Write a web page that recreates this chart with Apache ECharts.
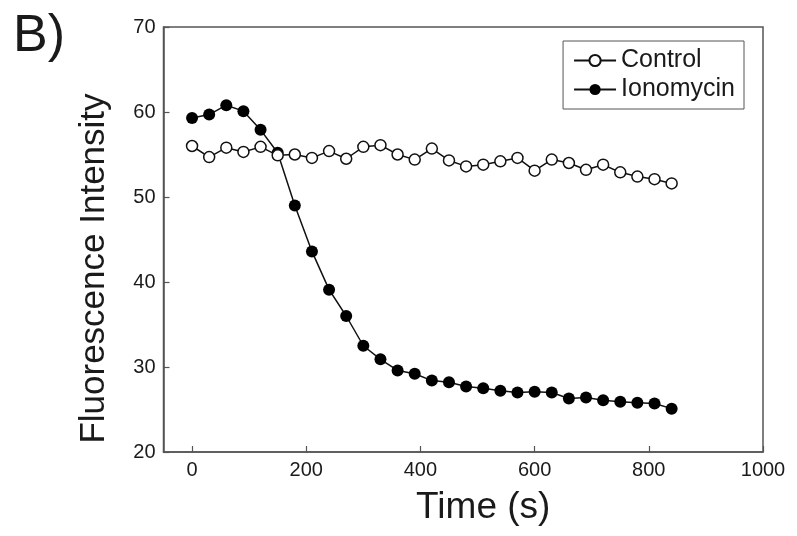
<!DOCTYPE html>
<html>
<head>
<meta charset="utf-8">
<script src="https://cdn.jsdelivr.net/npm/echarts@6/dist/echarts.min.js"></script>
<style>
  html, body { margin: 0; padding: 0; background: #fff; }
  #chart { width: 797px; height: 536px; }
</style>
</head>
<body>
<div id="chart"></div>
<script>
// time points (s), one reading every 30 s
const times = [0, 30, 60, 90, 120, 150, 180, 210, 240, 270, 300, 330, 360, 390, 420,
  450, 480, 510, 540, 570, 600, 630, 660, 690, 720, 750, 780, 810, 840];
const control = [56.0, 54.7, 55.8, 55.3, 55.9, 54.9, 55.0, 54.6, 55.4, 54.5, 55.9, 56.1, 55.0, 54.4, 55.7,
  54.3, 53.6, 53.8, 54.2, 54.6, 53.1, 54.4, 54.0, 53.2, 53.8, 52.9, 52.4, 52.1, 51.6];
const ionomycin = [59.3, 59.7, 60.8, 60.1, 57.9, 55.2, 49.0, 43.6, 39.1, 36.0, 32.5, 30.9, 29.6, 29.2, 28.4,
  28.2, 27.7, 27.5, 27.2, 27.0, 27.1, 27.0, 26.3, 26.4, 26.1, 25.9, 25.8, 25.7, 25.1];
const xTicks = [0, 200, 400, 600, 800, 1000];

const font = '"Liberation Sans", Arial, sans-serif';
const ink = '#1a1a1a';
const frame = '#555';

const pairs = (ys) => times.map((t, i) => [t, ys[i]]);

const chart = echarts.init(document.getElementById('chart'));
chart.setOption({
  backgroundColor: '#fff',
  animation: false,
  textStyle: { fontFamily: font, color: ink },
  graphic: [
    {
      type: 'text',
      left: 13,
      top: 11,
      style: { text: 'B)', font: '52px ' + font, fill: ink },
    },
  ],
  grid: {
    left: 163.5,
    right: 34,
    top: 27,
    bottom: 84,
    show: true,
    borderColor: frame,
    borderWidth: 1.5,
    backgroundColor: 'transparent',
  },
  legend: {
    orient: 'vertical',
    right: 53,
    top: 41,
    padding: [7, 9, 7, 10],
    itemGap: 4,
    itemWidth: 42,
    itemHeight: 14,
    borderColor: frame,
    borderWidth: 1,
    borderRadius: 0,
    textStyle: { fontFamily: font, fontSize: 25, color: ink },
    data: ['Control', 'Ionomycin'],
  },
  xAxis: {
    type: 'value',
    min: -50,
    max: 1000,
    name: 'Time (s)',
    nameLocation: 'middle',
    nameGap: 37,
    nameTextStyle: { fontSize: 37, color: ink, padding: [0, 0, 0, 40] },
    axisLine: { show: true, onZero: false, lineStyle: { color: frame, width: 1.5 } },
    axisTick: { show: true, inside: true, length: 6, customValues: xTicks, lineStyle: { color: frame, width: 1.2 } },
    axisLabel: { customValues: xTicks, fontSize: 20, color: ink, margin: 8, formatter: (v) => String(v) },
    splitLine: { show: false },
  },
  yAxis: {
    type: 'value',
    min: 20,
    max: 70,
    interval: 10,
    name: 'Fluorescence Intensity',
    nameLocation: 'middle',
    nameGap: 52,
    nameTextStyle: { fontSize: 35, color: ink, padding: [0, 58, 0, 0] },
    axisLine: { show: true, onZero: false, lineStyle: { color: frame, width: 1.5 } },
    axisTick: { show: true, inside: true, length: 6, lineStyle: { color: frame, width: 1.2 } },
    axisLabel: { fontSize: 20, color: ink, margin: 8 },
    splitLine: { show: false },
  },
  series: [
    {
      name: 'Ionomycin',
      type: 'line',
      data: pairs(ionomycin),
      symbol: 'circle',
      symbolSize: 12,
      lineStyle: { color: '#111', width: 1.5 },
      itemStyle: { color: '#000', borderColor: '#000', borderWidth: 0 },
      z: 2,
    },
    {
      name: 'Control',
      type: 'line',
      data: pairs(control),
      symbol: 'circle',
      symbolSize: 11,
      lineStyle: { color: '#111', width: 1.5 },
      itemStyle: { color: '#fff', borderColor: '#111', borderWidth: 1.5 },
      z: 3,
    },
  ],
});
</script>
</body>
</html>
